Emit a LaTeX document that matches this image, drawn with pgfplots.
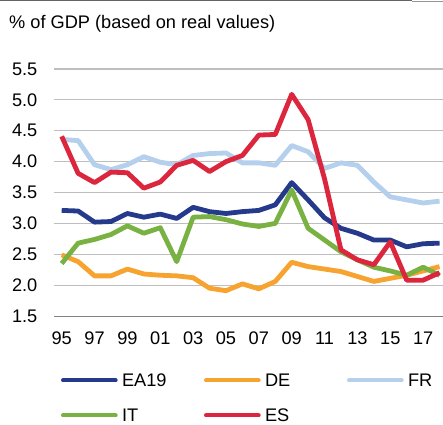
\documentclass[border=0pt]{standalone}
\usepackage{pgfplots}
\pgfplotsset{compat=1.18}
\usepackage{fontspec}
\setmainfont{Liberation Sans}
\definecolor{cEA}{RGB}{38,58,140}
\definecolor{cDE}{RGB}{247,163,48}
\definecolor{cFR}{RGB}{180,208,236}
\definecolor{cIT}{RGB}{121,178,66}
\definecolor{cES}{RGB}{219,38,62}
\definecolor{cGrid}{RGB}{190,190,190}
\definecolor{cBase}{RGB}{128,128,128}
\begin{document}
\fontsize{18.2bp}{21bp}\selectfont
\begin{tikzpicture}
\useasboundingbox (0,0) rectangle (443bp,425bp);
\draw[color={rgb,255:red,100;green,100;blue,100}, line width=1.3bp] (0,424.4bp) -- (412bp,424.4bp);
\draw[color={rgb,255:red,150;green,150;blue,150}, line width=1.3bp] (412bp,423.7bp) -- (443bp,423.7bp);
\node[anchor=base west, inner sep=0pt] at (9bp,396.7bp) {\% of GDP (based on real values)};
\begin{axis}[
  at={(54bp,109bp)}, anchor=south west,
  scale only axis, width=389bp, height=247bp,
  xmin=-0.469, xmax=23.21, ymin=1.5, ymax=5.5,
  clip=false,
  axis line style={draw=none},
  major tick length=0pt,
  tick style={draw=none},
  ytick={2.0,2.5,3.0,3.5,4.0,4.5,5.0,5.5},
  extra y ticks={1.5},
  extra y tick style={grid style={color=cBase, line width=1bp}},
  ymajorgrids,
  grid style={color=cGrid, line width=1.2bp},
  xtick={0,2,4,6,8,10,12,14,16,18,20,22},
  xticklabels={95,97,99,01,03,05,07,09,11,13,15,17},
  yticklabel style={anchor=east, inner sep=0pt, xshift=-16.5bp},
  xticklabel style={anchor=north, inner sep=0pt, yshift=-15.7bp},
  /pgf/number format/.cd, fixed, fixed zerofill, precision=1, assume math mode=true,
  /pgfplots/.cd,
  every axis plot/.append style={line width=4.8bp, line join=round, mark=none},
  legend columns=3,
  legend style={at={(axis description cs:0.018,-0.2348)}, anchor=north west,
    draw=none, fill=none, inner sep=0pt, outer sep=0pt, row sep=22bp,
    /tikz/every odd column/.append style={column sep=4.3bp},
    /tikz/every even column/.append style={column sep=0pt},
    nodes={inner sep=0pt, anchor=west, text width=82bp, text height=13bp, text depth=0pt, align=left}},
  legend image code/.code={\draw[#1, line width=4bp, line cap=round] (0bp,0bp) -- (52.7bp,0bp);},
]
\addplot[color=cEA] coordinates {(0,3.21)(1,3.20)(2,3.02)(3,3.03)(4,3.16)(5,3.10)(6,3.15)(7,3.08)(8,3.26)(9,3.19)(10,3.16)(11,3.19)(12,3.21)(13,3.30)(14,3.66)(15,3.38)(16,3.09)(17,2.92)(18,2.84)(19,2.73)(20,2.73)(21,2.62)(22,2.67)(23,2.68)};
\addlegendentry{EA19}
\addplot[color=cDE] coordinates {(0,2.49)(1,2.38)(2,2.15)(3,2.15)(4,2.26)(5,2.18)(6,2.16)(7,2.15)(8,2.12)(9,1.95)(10,1.91)(11,2.02)(12,1.94)(13,2.06)(14,2.37)(15,2.30)(16,2.26)(17,2.22)(18,2.14)(19,2.06)(20,2.11)(21,2.16)(22,2.23)(23,2.30)};
\addlegendentry{DE}
\addplot[color=cFR] coordinates {(0,4.36)(1,4.34)(2,3.95)(3,3.87)(4,3.95)(5,4.08)(6,3.99)(7,3.95)(8,4.10)(9,4.13)(10,4.14)(11,3.98)(12,3.98)(13,3.94)(14,4.26)(15,4.16)(16,3.89)(17,3.98)(18,3.94)(19,3.67)(20,3.43)(21,3.38)(22,3.33)(23,3.36)};
\addlegendentry{FR}
\addplot[color=cIT] coordinates {(0,2.35)(1,2.68)(2,2.74)(3,2.82)(4,2.96)(5,2.84)(6,2.93)(7,2.38)(8,3.10)(9,3.11)(10,3.06)(11,2.99)(12,2.95)(13,3.00)(14,3.54)(15,2.92)(16,2.73)(17,2.54)(18,2.41)(19,2.29)(20,2.23)(21,2.16)(22,2.29)(23,2.16)};
\addlegendentry{IT}
\addplot[color=cES] coordinates {(0,4.41)(1,3.81)(2,3.66)(3,3.83)(4,3.82)(5,3.57)(6,3.67)(7,3.94)(8,4.02)(9,3.84)(10,4.00)(11,4.10)(12,4.43)(13,4.44)(14,5.09)(15,4.68)(16,3.72)(17,2.57)(18,2.41)(19,2.33)(20,2.70)(21,2.08)(22,2.08)(23,2.20)};
\addlegendentry{ES}
\end{axis}
\end{tikzpicture}
\end{document}
